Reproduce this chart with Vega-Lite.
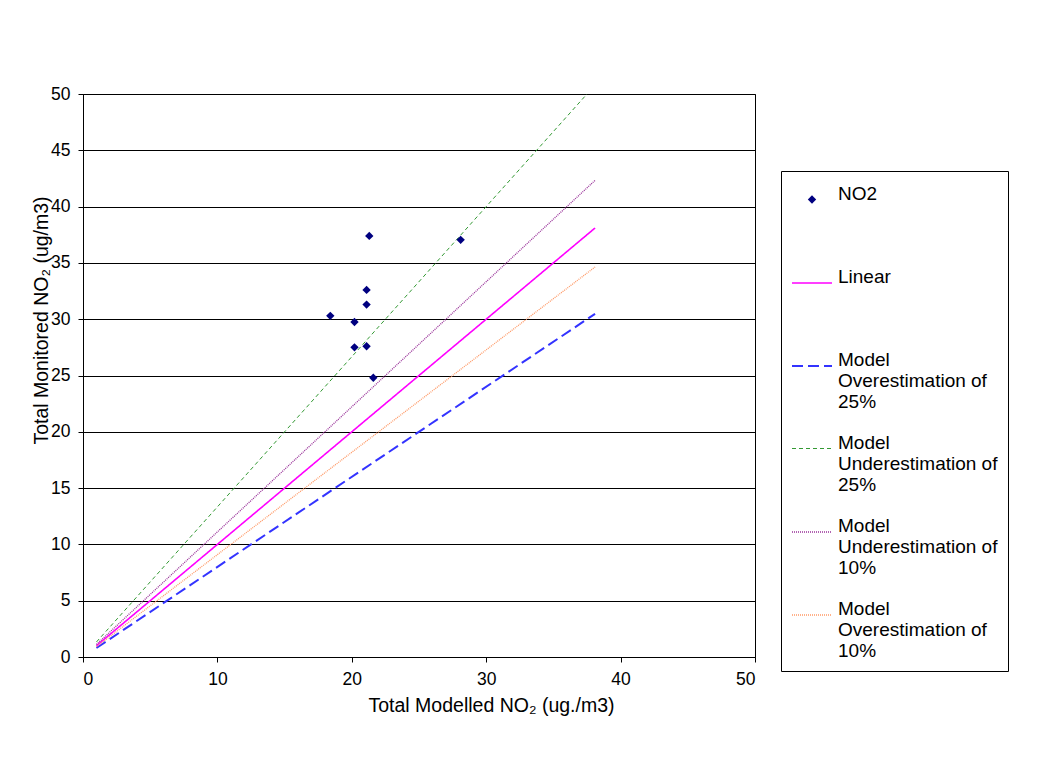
{
  "$schema": "https://vega.github.io/schema/vega-lite/v6.json",
  "width": 672,
  "height": 563,
  "autosize": {"type": "none"},
  "padding": {"left": 83, "top": 94, "right": 303, "bottom": 109},
  "background": "white",
  "config": {
    "font": "Liberation Sans",
    "view": {"stroke": "black", "strokeWidth": 1},
    "axis": {
      "labelFont": "Liberation Sans",
      "labelFontSize": 17.5,
      "labelColor": "black",
      "titleFont": "Liberation Sans",
      "titleFontSize": 19.5,
      "titleFontWeight": "normal",
      "titleColor": "black",
      "domainColor": "black",
      "tickColor": "black",
      "tickSize": 5
    }
  },
  "datasets": {
    "points": [
      {"series": "NO2", "modelled": 18.4, "monitored": 30.3},
      {"series": "NO2", "modelled": 20.2, "monitored": 29.75},
      {"series": "NO2", "modelled": 20.2, "monitored": 27.5},
      {"series": "NO2", "modelled": 21.1, "monitored": 32.6},
      {"series": "NO2", "modelled": 21.1, "monitored": 31.3},
      {"series": "NO2", "modelled": 21.1, "monitored": 27.6},
      {"series": "NO2", "modelled": 21.3, "monitored": 37.4},
      {"series": "NO2", "modelled": 21.6, "monitored": 24.8},
      {"series": "NO2", "modelled": 28.1, "monitored": 37.05}
    ],
    "lines": [
      {"series": "Linear", "modelled": 1.0, "monitored": 1.0},
      {"series": "Linear", "modelled": 38.1, "monitored": 38.1},
      {"series": "Model Overestimation of 25%", "modelled": 1.0, "monitored": 0.8},
      {"series": "Model Overestimation of 25%", "modelled": 38.1, "monitored": 30.48},
      {"series": "Model Underestimation of 25%", "modelled": 1.0, "monitored": 1.333},
      {"series": "Model Underestimation of 25%", "modelled": 38.1, "monitored": 50.8},
      {"series": "Model Underestimation of 10%", "modelled": 1.0, "monitored": 1.111},
      {"series": "Model Underestimation of 10%", "modelled": 38.1, "monitored": 42.33},
      {"series": "Model Overestimation of 10%", "modelled": 1.0, "monitored": 0.909},
      {"series": "Model Overestimation of 10%", "modelled": 38.1, "monitored": 34.64}
    ]
  },
  "encoding": {
    "x": {
      "field": "modelled",
      "type": "quantitative",
      "scale": {"domain": [0, 50], "nice": false},
      "axis": {
        "values": [0, 10, 20, 30, 40, 50],
        "grid": false,
        "labelPadding": 8,
        "title": "Total Modelled NO₂ (ug./m3)",
        "titleX": 408,
        "titleY": 48,
        "titleAlign": "center",
        "titleBaseline": "middle"
      }
    },
    "y": {
      "field": "monitored",
      "type": "quantitative",
      "scale": {"domain": [0, 50], "nice": false},
      "axis": {
        "values": [0, 5, 10, 15, 20, 25, 30, 35, 40, 45, 50],
        "grid": true,
        "gridColor": "black",
        "gridWidth": 1,
        "labelPadding": 8,
        "title": "Total Monitored NO₂ (ug/m3)",
        "titleX": -42,
        "titleY": 226,
        "titleAlign": "center",
        "titleBaseline": "middle",
        "titleAngle": -90
      }
    },
    "color": {
      "field": "series",
      "type": "nominal",
      "scale": {
        "domain": ["NO2", "Linear", "Model Overestimation of 25%", "Model Underestimation of 25%", "Model Underestimation of 10%", "Model Overestimation of 10%"],
        "range": ["#000080", "#FF00FF", "#3333FF", "#339933", "#993399", "#FF9966"]
      },
      "legend": {
        "orient": "none",
        "legendX": 698,
        "legendY": 77,
        "title": " ",
        "titleFontSize": 1,
        "titlePadding": 8,
        "strokeColor": "black",
        "padding": 10,
        "labelFont": "Liberation Sans",
        "labelFontSize": 19,
        "labelColor": "black",
        "labelLimit": 400,
        "labelOffset": 5,
        "rowPadding": 16,
        "labelBaseline": "alphabetic",
        "symbolOpacity": 1,
        "labelExpr": "datum.label == 'NO2' || datum.label == 'Linear' ? [datum.label, ' ', ' '] : [slice(datum.label, 0, 5), slice(datum.label, 6, indexof(datum.label, ' of') + 3), slice(datum.label, indexof(datum.label, ' of') + 4)]"
      }
    }
  },
  "layer": [
    {
      "data": {"name": "lines"},
      "mark": {"type": "line", "clip": true},
      "encoding": {
        "strokeDash": {
          "field": "series",
          "type": "nominal",
          "scale": {
            "type": "ordinal",
            "domain": ["NO2", "Linear", "Model Overestimation of 25%", "Model Underestimation of 25%", "Model Underestimation of 10%", "Model Overestimation of 10%"],
            "range": [[1, 0], [1, 0], [11, 5], [4, 3], [1, 1], [1, 1]]
          }
        },
        "strokeWidth": {
          "field": "series",
          "type": "nominal",
          "scale": {
            "type": "ordinal",
            "domain": ["NO2", "Linear", "Model Overestimation of 25%", "Model Underestimation of 25%", "Model Underestimation of 10%", "Model Overestimation of 10%"],
            "range": [0, 1.6, 2, 1, 1.3, 1.3]
          }
        }
      }
    },
    {
      "data": {"name": "points"},
      "mark": {"type": "point", "filled": true, "opacity": 1},
      "encoding": {
        "shape": {
          "field": "series",
          "type": "nominal",
          "scale": {
            "type": "ordinal",
            "domain": ["NO2", "Linear", "Model Overestimation of 25%", "Model Underestimation of 25%", "Model Underestimation of 10%", "Model Overestimation of 10%"],
            "range": ["diamond", "stroke", "stroke", "stroke", "stroke", "stroke"]
          }
        },
        "size": {
          "field": "series",
          "type": "nominal",
          "scale": {
            "type": "ordinal",
            "domain": ["NO2", "Linear", "Model Overestimation of 25%", "Model Underestimation of 25%", "Model Underestimation of 10%", "Model Overestimation of 10%"],
            "range": [70, 1600, 1600, 1600, 1600, 1600]
          }
        }
      }
    }
  ]
}
